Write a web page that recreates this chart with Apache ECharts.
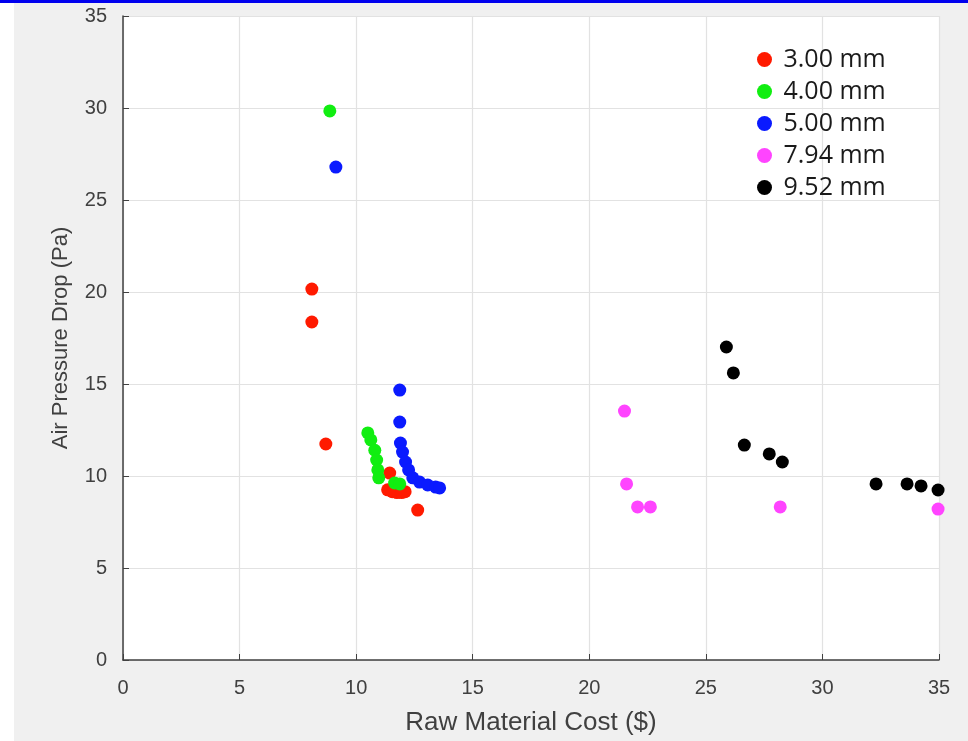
<!DOCTYPE html>
<html>
<head>
<meta charset="utf-8">
<script src="https://cdn.jsdelivr.net/npm/echarts@6/dist/echarts.min.js"></script>
<style>html,body{margin:0;padding:0;background:#fff;}#c{width:968px;height:741px;}</style>
</head>
<body>
<div id="c"></div>
<script>
const seriesNames = ['3.00 mm', '4.00 mm', '5.00 mm', '7.94 mm', '9.52 mm'];
const seriesColors = ['#ff1a00', '#11ee11', '#0a1aff', '#ff44ff', '#000000'];
const xTicks = [0, 5, 10, 15, 20, 25, 30, 35];
const yTicks = [0, 5, 10, 15, 20, 25, 30, 35];

const d300 = [[8.10, 20.16], [8.10, 18.37], [8.70, 11.74], [11.44, 10.16], [11.35, 9.25], [11.55, 9.15], [11.75, 9.1], [11.95, 9.1], [12.1, 9.15], [12.64, 8.15]];
const d400 = [[8.87, 29.84], [10.5, 12.34], [10.63, 11.96], [10.8, 11.4], [10.88, 10.87], [10.93, 10.33], [10.97, 9.9], [11.65, 9.62], [11.87, 9.57]];
const d500 = [[9.13, 26.79], [11.87, 14.67], [11.87, 12.93], [11.9, 11.79], [11.99, 11.3], [12.12, 10.76], [12.25, 10.33], [12.43, 9.9], [12.72, 9.67], [13.07, 9.51], [13.41, 9.4], [13.58, 9.35]];
const d794 = [[21.51, 13.53], [21.6, 9.57], [22.07, 8.32], [22.62, 8.32], [28.19, 8.32], [34.96, 8.2]];
const d952 = [[25.88, 17.01], [26.18, 15.6], [26.65, 11.68], [27.72, 11.2], [28.28, 10.76], [32.3, 9.57], [33.63, 9.57], [34.23, 9.46], [34.96, 9.24]];
const allData = [d300, d400, d500, d794, d952];

const chart = echarts.init(document.getElementById('c'), null, {renderer: 'canvas'});
const font = 'Liberation Sans, Arial, sans-serif';
chart.setOption({
  animation: false,
  backgroundColor: '#ffffff',
  graphic: [
    {type: 'rect', z: -10, shape: {x: 14, y: 3, width: 954, height: 738}, style: {fill: '#f0f0f0'}},
    {type: 'rect', z: -10, shape: {x: 0, y: 0, width: 968, height: 3}, style: {fill: '#0000ee'}}
  ],
  grid: {left: 123, right: 29, top: 16, bottom: 78, show: true, backgroundColor: '#ffffff', borderWidth: 0},
  legend: {
    orient: 'vertical', left: 752, top: 42, itemGap: 7, itemWidth: 16, itemHeight: 15,
    icon: 'circle', data: seriesNames,
    textStyle: {fontFamily: 'Open Sans, sans-serif', fontSize: 25, color: '#1a1a1a', padding: [0, 0, 0, 6]}
  },
  xAxis: {
    type: 'value', min: 0, max: 35, interval: 5,
    name: 'Raw Material Cost ($)', nameLocation: 'middle', nameGap: 50,
    nameTextStyle: {fontFamily: font, fontSize: 26, color: '#404040'},
    axisLine: {show: true, onZero: false, lineStyle: {color: '#404040', width: 1.5}},
    axisTick: {show: true, inside: true, length: 6, lineStyle: {color: '#404040'}},
    axisLabel: {fontFamily: font, fontSize: 20, color: '#404040', margin: 18,
      formatter: v => xTicks.includes(v) ? String(v) : ''},
    splitLine: {show: true, lineStyle: {color: '#e2e2e2', width: 1.2}}
  },
  yAxis: {
    type: 'value', min: 0, max: 35, interval: 5,
    name: 'Air Pressure Drop (Pa)', nameLocation: 'middle', nameGap: 51, nameRotate: 90,
    nameTextStyle: {fontFamily: font, fontSize: 22, color: '#404040'},
    axisLine: {show: true, onZero: false, lineStyle: {color: '#404040', width: 1.5}},
    axisTick: {show: true, inside: true, length: 6, lineStyle: {color: '#404040'}},
    axisLabel: {fontFamily: font, fontSize: 20, color: '#404040', margin: 16,
      formatter: v => yTicks.includes(v) ? String(v) : ''},
    splitLine: {show: true, lineStyle: {color: '#e2e2e2', width: 1.2}}
  },
  series: seriesNames.map((n, i) => ({
    name: n, type: 'scatter', data: allData[i], symbol: 'circle', symbolSize: 13,
    itemStyle: {color: seriesColors[i], opacity: 1}
  }))
});
</script>
</body>
</html>
